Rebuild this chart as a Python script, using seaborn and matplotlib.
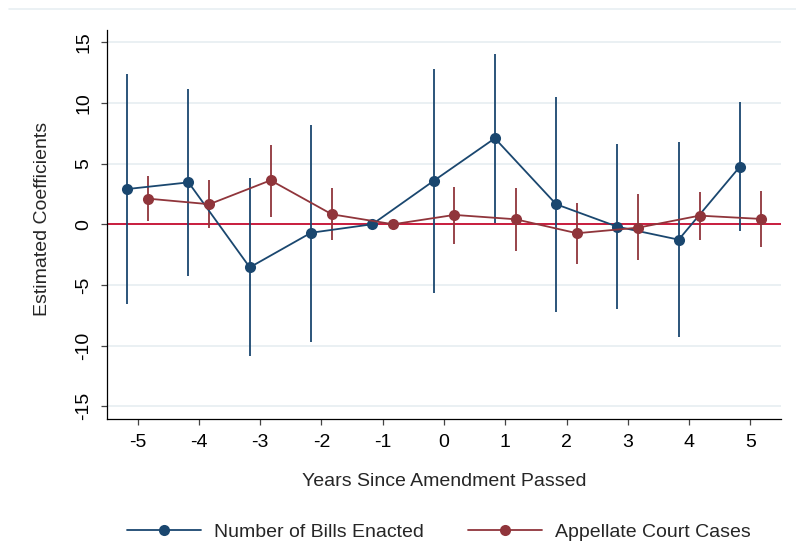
import numpy as np
import pandas as pd
import seaborn as sns
import matplotlib
matplotlib.use("Agg")
import matplotlib.pyplot as plt
from matplotlib.lines import Line2D

# ---- data ----
years = [-5, -4, -3, -2, -1, 0, 1, 2, 3, 4, 5]
bills_coef = [2.9, 3.45, -3.55, -0.7, 0.0, 3.57, 7.08, 1.65, -0.2, -1.27, 4.75]
bills_lo = [-6.6, -4.3, -10.85, -9.67, 0.0, -5.68, 0.13, -7.25, -6.98, -9.26, -0.55]
bills_hi = [12.36, 11.14, 3.79, 8.2, 0.0, 12.77, 14.0, 10.46, 6.6, 6.75, 10.05]
courts_coef = [2.11, 1.65, 3.62, 0.82, 0.0, 0.77, 0.41, -0.74, -0.28, 0.71, 0.44]
courts_lo = [0.25, -0.33, 0.63, -1.32, 0.0, -1.62, -2.2, -3.27, -2.97, -1.29, -1.89]
courts_hi = [3.95, 3.65, 6.56, 2.99, 0.0, 3.1, 3.0, 1.78, 2.47, 2.63, 2.74]
series_names = ["Number of Bills Enacted", "Appellate Court Cases"]
x_ticks = [-5, -4, -3, -2, -1, 0, 1, 2, 3, 4, 5]
y_ticks = [-15, -10, -5, 0, 5, 10, 15]

BLUE = "#1a476f"
RED = "#90353b"
ZERO = "#c60c30"
GRID = "#e8eff2"
offset = 0.17

sns.set_theme(style="white")
plt.rcParams["font.family"] = ["Liberation Sans", "DejaVu Sans"]

df = pd.concat([
    pd.DataFrame({"year": years, "coef": bills_coef, "lo": bills_lo, "hi": bills_hi,
                  "series": series_names[0]}),
    pd.DataFrame({"year": years, "coef": courts_coef, "lo": courts_lo, "hi": courts_hi,
                  "series": series_names[1]}),
], ignore_index=True)
df["xpos"] = df["year"] + np.where(df["series"] == series_names[0], -offset, offset)

fig = plt.figure(figsize=(7.96, 5.47), dpi=100)
ax = fig.add_axes([107 / 796, 1 - 419 / 547, (781 - 107) / 796, (419 - 30) / 547])

# faint graph-region line at the top
fig.add_artist(Line2D([9 / 796, 1.0], [1 - 9 / 547, 1 - 9 / 547], color=GRID, lw=1.2,
                      transform=fig.transFigure))

for yv in y_ticks:
    ax.axhline(yv, color=GRID, lw=1.3, zorder=0.5)
ax.axhline(0, color=ZERO, lw=1.3, zorder=1.5)

palette = {series_names[0]: BLUE, series_names[1]: RED}
for name in series_names:
    sub = df[df["series"] == name]
    ax.vlines(sub["xpos"], sub["lo"], sub["hi"], color=palette[name], lw=1.3, zorder=2)

sns.lineplot(data=df, x="xpos", y="coef", hue="series", palette=palette,
             marker="o", markersize=8, markeredgewidth=0, linewidth=1.3,
             legend=False, ax=ax, zorder=3, sort=True)

ax.set_xlim(-5.5, 5.5)
ax.set_ylim(-16.04, 16.0)
ax.set_xticks(x_ticks)
ax.set_xticklabels([str(v) for v in x_ticks])
ax.set_yticks(y_ticks)
ax.set_yticklabels([str(v) for v in y_ticks], rotation=90, va="center")

for s in ["top", "right"]:
    ax.spines[s].set_visible(False)
for s in ["left", "bottom"]:
    ax.spines[s].set_color("black")
    ax.spines[s].set_linewidth(0.9)

ax.tick_params(axis="both", which="major", direction="out", length=4.5, width=0.9,
               color="#444444", labelsize=14, labelcolor="black", pad=6)
ax.tick_params(axis="x", bottom=True)
ax.tick_params(axis="y", left=True)

ax.set_xlabel("Years Since Amendment Passed", fontsize=14, labelpad=0)
ax.xaxis.set_label_coords((444 - 107) / 674, (419 - 481) / 389)
ax.xaxis.label.set_verticalalignment("center")
ax.set_ylabel("Estimated Coefficients", fontsize=14)
ax.yaxis.set_label_coords((42 - 107) / 674, (419 - 219) / 389)
ax.yaxis.label.set_verticalalignment("center")

handles = [Line2D([], [], color=palette[n], lw=1.3, marker="o", markersize=8,
                  markeredgewidth=0) for n in series_names]
fig.legend(handles, series_names, loc="center", bbox_to_anchor=(439 / 796, 1 - 532 / 547),
           ncol=2, frameon=False, fontsize=14, handlelength=3.8, handletextpad=0.65,
           columnspacing=2.3, borderaxespad=0)

fig.savefig("out.png", dpi=100)
